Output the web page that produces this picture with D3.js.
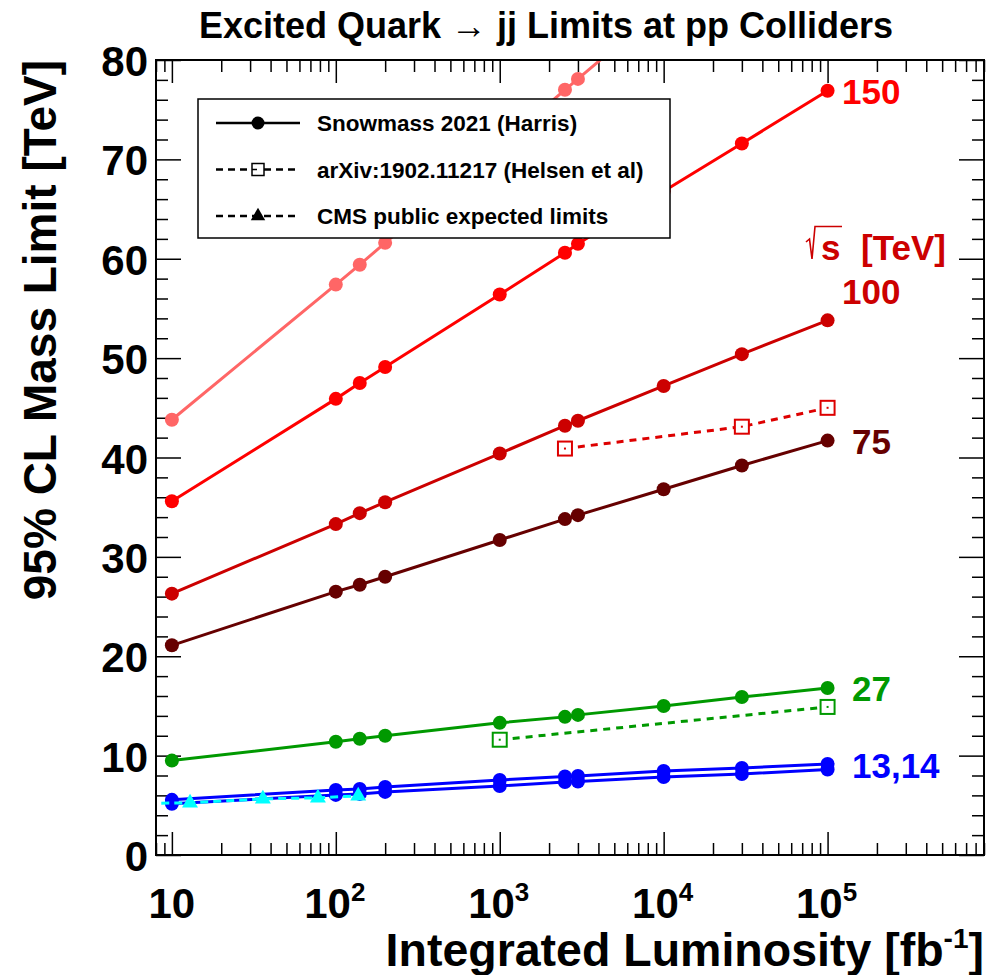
<!DOCTYPE html>
<html>
<head>
<meta charset="utf-8">
<script src="https://cdn.jsdelivr.net/npm/d3@7"></script>
<style>
body { margin: 0; background: #fff; }
text { font-family: "Liberation Sans", Arial, Helvetica, sans-serif; font-weight: bold; }
</style>
</head>
<body>
<svg id="chart" width="988" height="975"></svg>
<script>
// integrated luminosity points (fb^-1) used by the Snowmass curves
const lumi = [10, 100, 140, 200, 1000, 2500, 3000, 10000, 30000, 100000];

// 95% CL mass limits (TeV) for each sqrt(s)
const mass200 = [43.8, 57.4, 59.4, 61.6, 71.4, 77.0, 78.1, 85.4];
const mass150 = [35.6, 45.9, 47.5, 49.1, 56.4, 60.6, 61.5, 66.8, 71.6, 76.9];
const mass100 = [26.3, 33.3, 34.4, 35.5, 40.4, 43.2, 43.7, 47.2, 50.4, 53.8];
const mass75 = [21.1, 26.5, 27.2, 28.0, 31.7, 33.8, 34.2, 36.8, 39.2, 41.7];
const mass27 = [9.5, 11.4, 11.7, 12.0, 13.3, 13.9, 14.1, 15.0, 15.9, 16.8];
const mass14 = [5.55, 6.55, 6.65, 6.85, 7.55, 7.9, 7.95, 8.45, 8.75, 9.15];
const mass13 = [5.15, 6.05, 6.15, 6.35, 6.95, 7.35, 7.4, 7.85, 8.15, 8.6];

// arXiv:1902.11217 (Helsen et al)
const helsenLumi100 = [2500, 30000, 100000];
const helsenMass100 = [40.9, 43.1, 45.0];
const helsenLumi27 = [1000, 100000];
const helsenMass27 = [11.6, 14.9];

// CMS public expected limits at 13 TeV
const cmsLumi = [2.4, 12.9, 35.9, 77.8, 137];
const cmsMass = [5.1, 5.25, 5.65, 5.75, 5.95];

const yTickLabels = [0, 10, 20, 30, 40, 50, 60, 70, 80];
const xTickLabels = [[10, ''], [100, '2'], [1000, '3'], [10000, '4'], [100000, '5']];

const energyLabels = [
    {text: '150', color: '#ff0000', y: 76.9},
    {text: '100', color: '#cc0000', y: 56.8},
    {text: '75', color: '#660000', y: 41.7},
    {text: '27', color: '#009900', y: 16.8},
    {text: '13,14', color: '#0000ff', y: 9.1}
];

function zip(xs, ys) {
    return ys.map((v, i) => ({x: xs[i], y: v}));
}

const series = [
    {pts: zip(lumi, mass200), color: '#ff6666', dash: null, marker: 'circle'},
    {pts: zip(lumi, mass150), color: '#ff0000', dash: null, marker: 'circle'},
    {pts: zip(lumi, mass100), color: '#cc0000', dash: null, marker: 'circle'},
    {pts: zip(lumi, mass75), color: '#660000', dash: null, marker: 'circle'},
    {pts: zip(helsenLumi100, helsenMass100), color: '#dd0000', dash: '7,6', marker: 'square'},
    {pts: zip(lumi, mass27), color: '#009900', dash: null, marker: 'circle'},
    {pts: zip(helsenLumi27, helsenMass27), color: '#009900', dash: '7,6', marker: 'square'},
    {pts: zip(lumi, mass14), color: '#0000ff', dash: null, marker: 'circle'},
    {pts: zip(lumi, mass13), color: '#0000ff', dash: null, marker: 'circle'},
    {pts: zip(cmsLumi, cmsMass), color: '#00ffff', dash: '8,5', marker: 'triangle'}
];

const svg = d3.select('#chart');
const pLeft = 156, pRight = 984, pTop = 60, pBottom = 855;

const x = d3.scaleLog().domain([8, 9e5]).range([pLeft, pRight]);
const y = d3.scaleLinear().domain([0, 80]).range([pBottom, pTop]);

// tick positions
let xMajor = [], xMinor = [];
for (let d = 1; d <= 1e5; d *= 10) {
    for (let k = 1; k <= 9; k++) {
        let v = k * d;
        if (v < 8 || v > 9e5) continue;
        if (k === 1) xMajor.push(v); else xMinor.push(v);
    }
}
const yMinor = d3.range(0, 81, 2).filter(v => v % 10 !== 0);

svg.append('defs').append('clipPath').attr('id', 'plotclip')
    .append('rect').attr('x', pLeft).attr('y', pTop)
    .attr('width', pRight - pLeft).attr('height', pBottom - pTop);

function drawAxis(axis, transform) {
    let g = svg.append('g').attr('transform', transform).call(axis);
    g.select('.domain').remove();
    g.selectAll('line').attr('stroke', '#000').attr('stroke-width', 1.5);
    g.selectAll('text').remove();
}

drawAxis(d3.axisBottom(x).tickValues(xMajor).tickSize(-23), `translate(0,${pBottom})`);
drawAxis(d3.axisBottom(x).tickValues(xMinor).tickSize(-12), `translate(0,${pBottom})`);
drawAxis(d3.axisTop(x).tickValues(xMajor).tickSize(-23), `translate(0,${pTop})`);
drawAxis(d3.axisTop(x).tickValues(xMinor).tickSize(-12), `translate(0,${pTop})`);
drawAxis(d3.axisLeft(y).tickValues(yTickLabels).tickSize(-25), `translate(${pLeft},0)`);
drawAxis(d3.axisLeft(y).tickValues(yMinor).tickSize(-12), `translate(${pLeft},0)`);
drawAxis(d3.axisRight(y).tickValues(yTickLabels).tickSize(-25), `translate(${pRight},0)`);
drawAxis(d3.axisRight(y).tickValues(yMinor).tickSize(-12), `translate(${pRight},0)`);

// tick labels
svg.append('g').selectAll('text')
    .data(yTickLabels)
    .join('text')
    .attr('x', 148)
    .attr('y', d => y(d) + 16)
    .attr('text-anchor', 'end')
    .style('font-size', '42px')
    .text(d => d);

svg.append('g').selectAll('text')
    .data(xTickLabels)
    .join('text')
    .attr('x', d => x(d[0]) + (d[1] ? -1 : 0))
    .attr('y', 918)
    .attr('text-anchor', 'middle')
    .style('font-size', '42px')
    .each(function(d) {
        let t = d3.select(this);
        t.append('tspan').text('10');
        if (d[1]) {
            t.append('tspan').attr('dy', -17).style('font-size', '26px').text(d[1]);
        }
    });

// data
const plot = svg.append('g').attr('clip-path', 'url(#plotclip)');
const line = d3.line().x(d => x(d.x)).y(d => y(d.y));

function updateSeries(s) {
    let g = d3.select(this);

    g.append('path')
        .attr('d', line(s.pts))
        .attr('fill', 'none')
        .attr('stroke', s.color)
        .attr('stroke-width', 3)
        .attr('stroke-dasharray', s.dash);

    let m = g.selectAll('.mk').data(s.pts).join('g')
        .classed('mk', true)
        .attr('transform', d => `translate(${x(d.x)},${y(d.y)})`);

    if (s.marker === 'circle') {
        m.append('circle').attr('r', 7).attr('fill', s.color);
    } else if (s.marker === 'square') {
        m.append('rect').attr('x', -7).attr('y', -7).attr('width', 14).attr('height', 14)
            .attr('fill', '#fff').attr('stroke', s.color).attr('stroke-width', 2);
        m.append('rect').attr('x', -1).attr('y', -1).attr('width', 2).attr('height', 2)
            .attr('fill', s.color);
    } else {
        m.append('path').attr('d', d3.symbol(d3.symbolTriangle, 110)()).attr('fill', s.color);
    }
}

plot.selectAll('g.series')
    .data(series)
    .join('g')
    .classed('series', true)
    .each(updateSeries);

// frame
svg.append('rect')
    .attr('x', pLeft).attr('y', pTop)
    .attr('width', pRight - pLeft).attr('height', pBottom - pTop)
    .attr('fill', 'none').attr('stroke', '#000').attr('stroke-width', 2);

// energy labels
svg.append('g').selectAll('text')
    .data(energyLabels)
    .join('text')
    .attr('x', d => d.text === '150' || d.text === '100' ? 842 : 852)
    .attr('y', d => y(d.y) + 13)
    .attr('fill', d => d.color)
    .style('font-size', '35px')
    .text(d => d.text);

// sqrt(s) [TeV] header, radical drawn as a thin path
let sq = svg.append('g').attr('fill', '#cc0000');
sq.append('path')
    .attr('d', 'M806,242 L809.5,239 L812,259 L815,226.5 L842,226.5')
    .attr('fill', 'none').attr('stroke', '#cc0000').attr('stroke-width', 1.6);
sq.append('text').attr('x', 821).attr('y', 260).style('font-size', '35px').text('s');
sq.append('text').attr('x', 861).attr('y', 260).style('font-size', '35px').text('[TeV]');

// legend
const legendRows = [
    {label: 'Snowmass 2021 (Harris)', dash: null, marker: 'circle'},
    {label: 'arXiv:1902.11217 (Helsen et al)', dash: '7,5', marker: 'square'},
    {label: 'CMS public expected limits', dash: '7,5', marker: 'triangle'}
];

let lg = svg.append('g');
lg.append('rect').attr('x', 198).attr('y', 99).attr('width', 472).attr('height', 139)
    .attr('fill', '#fff').attr('stroke', '#000').attr('stroke-width', 1.5);

lg.selectAll('g.row')
    .data(legendRows)
    .join('g')
    .classed('row', true)
    .attr('transform', (d, i) => `translate(0,${123 + i * 46.5})`)
    .each(function(d) {
        let g = d3.select(this);
        g.append('line').attr('x1', 216).attr('x2', 300).attr('y1', 0).attr('y2', 0)
            .attr('stroke', '#000').attr('stroke-width', 2.5).attr('stroke-dasharray', d.dash);
        if (d.marker === 'circle') {
            g.append('circle').attr('cx', 258).attr('r', 6.5).attr('fill', '#000');
        } else if (d.marker === 'square') {
            g.append('rect').attr('x', 252).attr('y', -6).attr('width', 12).attr('height', 12)
                .attr('fill', '#fff').attr('stroke', '#000').attr('stroke-width', 1.5);
            g.append('line').attr('x1', 252).attr('x2', 257).attr('y1', 0).attr('y2', 0)
                .attr('stroke', '#000').attr('stroke-width', 1.5);
        } else {
            g.append('path').attr('transform', 'translate(258,0)')
                .attr('d', d3.symbol(d3.symbolTriangle, 90)()).attr('fill', '#000');
        }
        g.append('text').attr('x', 317).attr('y', 8).style('font-size', '22.5px').text(d.label);
    });

// titles
let title = svg.append('text').attr('x', 546).attr('y', 38).attr('text-anchor', 'middle')
    .style('font-size', '36px');
title.append('tspan').text('Excited Quark ');
title.append('tspan').style('font-weight', 'normal').text('\u2192');
title.append('tspan').text(' jj Limits at pp Colliders');

svg.append('text')
    .attr('transform', 'translate(56,60) rotate(-90)')
    .attr('text-anchor', 'end')
    .style('font-size', '46px')
    .text('95% CL Mass Limit [TeV]');

let xt = svg.append('text').attr('x', 984).attr('y', 966).attr('text-anchor', 'end')
    .style('font-size', '46.5px');
xt.append('tspan').text('Integrated Luminosity [fb');
xt.append('tspan').attr('dy', -18).style('font-size', '28px').text('-1');
xt.append('tspan').attr('dy', 18).text(']');
</script>
</body>
</html>
